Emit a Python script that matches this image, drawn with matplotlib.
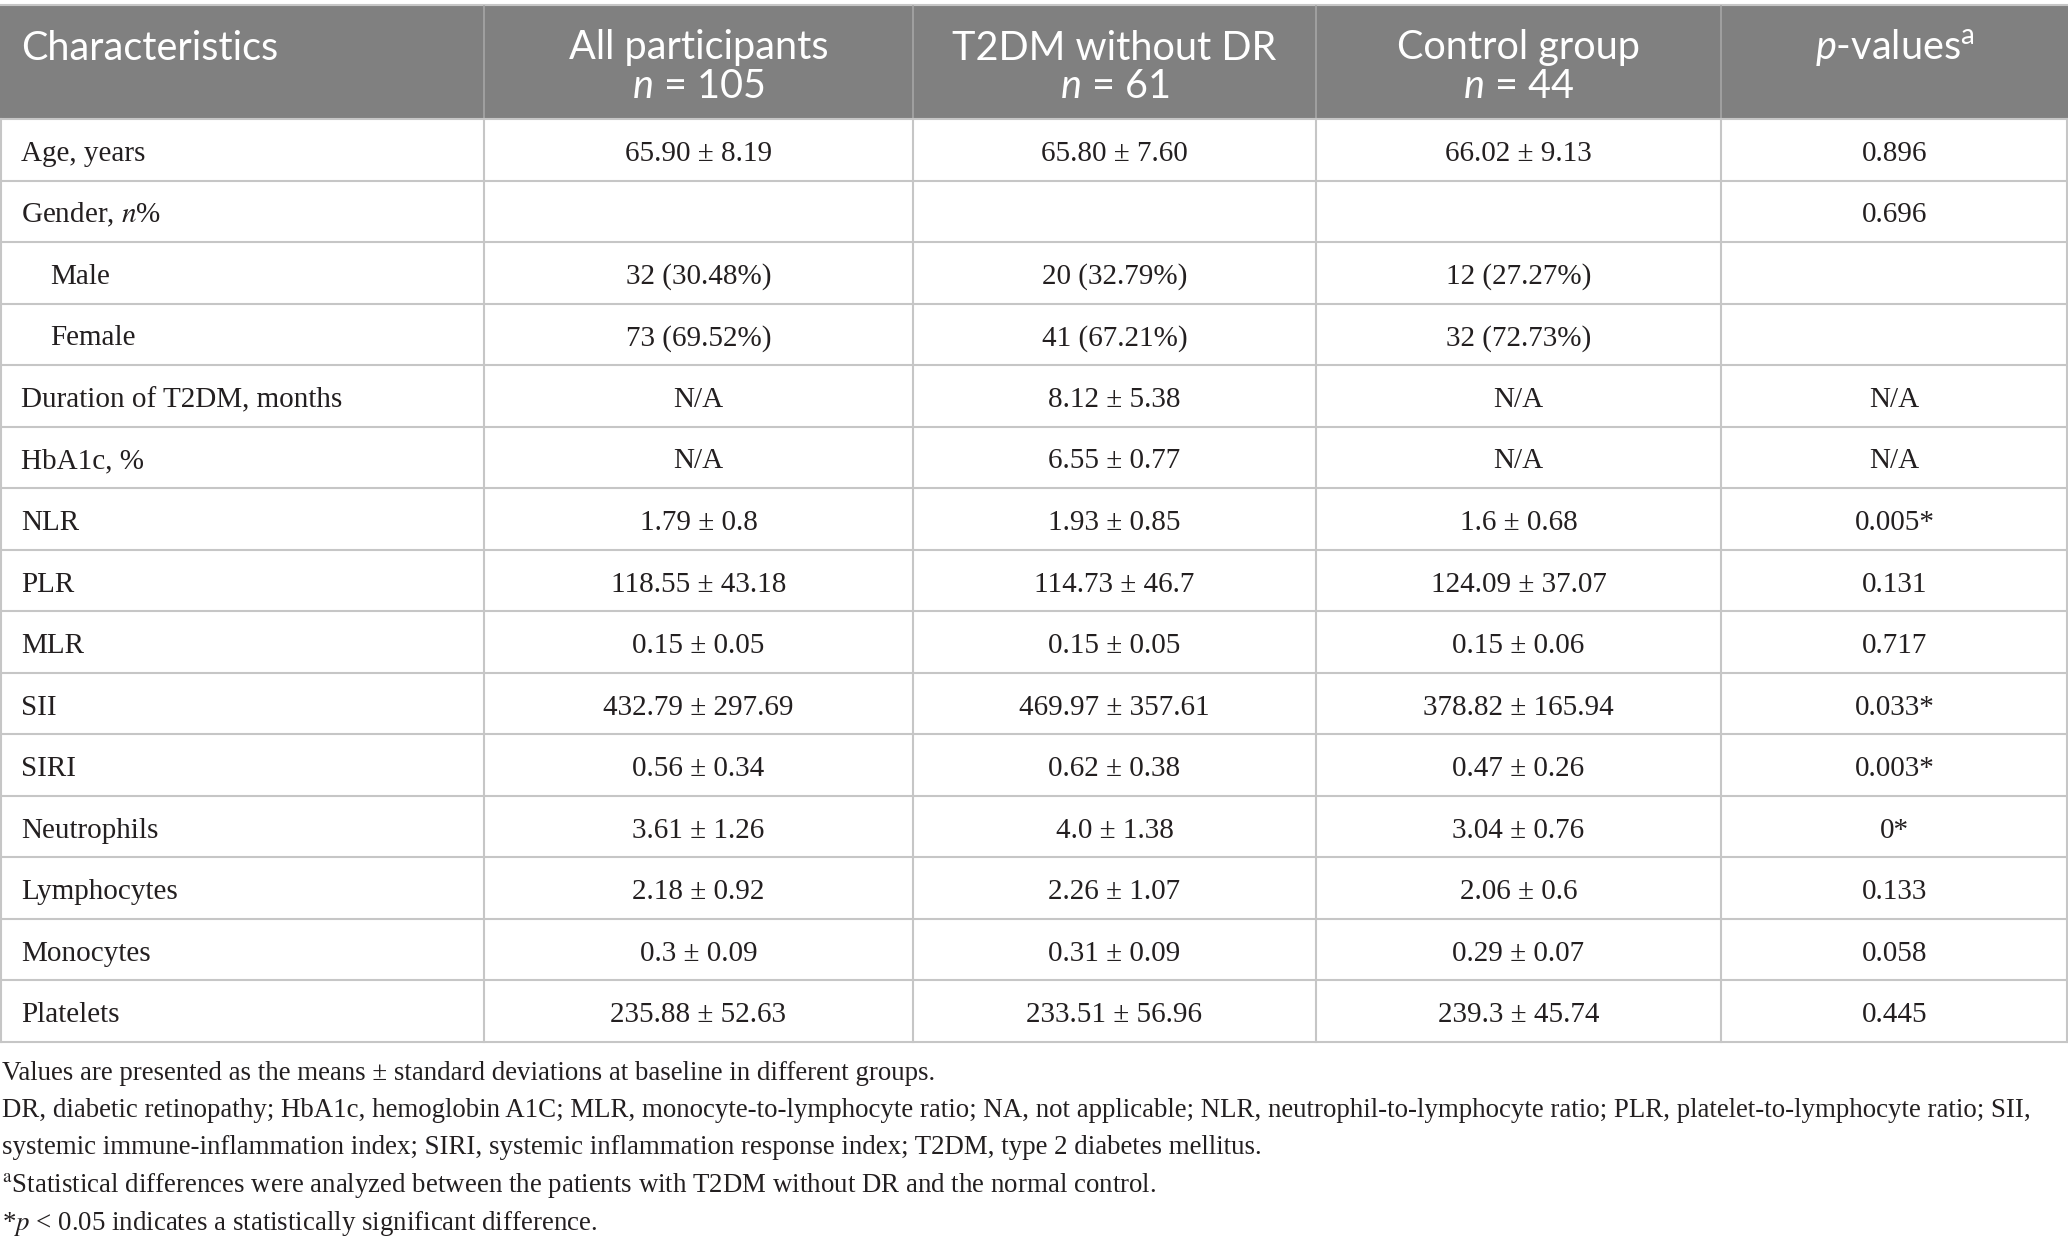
import matplotlib
matplotlib.use("Agg")
import matplotlib.pyplot as plt
from matplotlib.patches import Rectangle

# ---- table content ----
header_top = ["Characteristics", "All participants", "T2DM without DR", "Control group", "$p$-values$^{\\mathrm{a}}$"]
header_n = ["", "$n$ = 105", "$n$ = 61", "$n$ = 44", ""]

labels = ["Age, years", "Gender, $n$%", "Male", "Female", "Duration of T2DM, months",
          "HbA1c, %", "NLR", "PLR", "MLR", "SII", "SIRI", "Neutrophils",
          "Lymphocytes", "Monocytes", "Platelets"]
indented = ["Male", "Female"]

all_participants = ["65.90 ± 8.19", "", "32 (30.48%)", "73 (69.52%)", "N/A", "N/A",
                    "1.79 ± 0.8", "118.55 ± 43.18", "0.15 ± 0.05", "432.79 ± 297.69",
                    "0.56 ± 0.34", "3.61 ± 1.26", "2.18 ± 0.92", "0.3 ± 0.09", "235.88 ± 52.63"]
t2dm_no_dr = ["65.80 ± 7.60", "", "20 (32.79%)", "41 (67.21%)", "8.12 ± 5.38", "6.55 ± 0.77",
              "1.93 ± 0.85", "114.73 ± 46.7", "0.15 ± 0.05", "469.97 ± 357.61",
              "0.62 ± 0.38", "4.0 ± 1.38", "2.26 ± 1.07", "0.31 ± 0.09", "233.51 ± 56.96"]
control = ["66.02 ± 9.13", "", "12 (27.27%)", "32 (72.73%)", "N/A", "N/A",
           "1.6 ± 0.68", "124.09 ± 37.07", "0.15 ± 0.06", "378.82 ± 165.94",
           "0.47 ± 0.26", "3.04 ± 0.76", "2.06 ± 0.6", "0.29 ± 0.07", "239.3 ± 45.74"]
p_values = ["0.896", "0.696", "", "", "N/A", "N/A", "0.005*", "0.131", "0.717", "0.033*",
            "0.003*", "0*", "0.133", "0.058", "0.445"]

footnotes = [
    "Values are presented as the means ± standard deviations at baseline in different groups.",
    "DR, diabetic retinopathy; HbA1c, hemoglobin A1C; MLR, monocyte-to-lymphocyte ratio; NA, not applicable; "
    "NLR, neutrophil-to-lymphocyte ratio; PLR, platelet-to-lymphocyte ratio; SII,",
    "systemic immune-inflammation index; SIRI, systemic inflammation response index; T2DM, type 2 diabetes mellitus.",
    "$^{\\mathrm{a}}$Statistical differences were analyzed between the patients with T2DM without DR and the normal control.",
    "*$p$ < 0.05 indicates a statistically significant difference.",
]

# ---- style / layout ----
W, H = 2068, 1251
col_edges = [0, 484, 913, 1316, 1721, 2068]
head_y0, head_y1 = 6, 119
body_y1 = 1042
grid_color = "#c6c6c6"
head_color = "#808080"
text_color = "#231f20"

plt.rcParams["mathtext.fontset"] = "custom"
plt.rcParams["mathtext.rm"] = "Lato"
plt.rcParams["mathtext.it"] = "Lato:italic"

fig = plt.figure(figsize=(W / 100, H / 100), dpi=100)
ax = fig.add_axes([0, 0, 1, 1])
ax.set_xlim(0, W)
ax.set_ylim(H, 0)
ax.axis("off")

# header band
ax.add_patch(Rectangle((0, head_y0), W, head_y1 - head_y0, color=head_color, lw=0))
ax.plot([0, W], [head_y0 - 1, head_y0 - 1], color=grid_color, lw=1.5)
for x in col_edges[1:-1]:
    ax.plot([x, x], [head_y0, head_y1], color="#a6a6a6", lw=1.2)

hfont = dict(family="Lato", fontsize=28.5, color="white")
for i, (t1, t2) in enumerate(zip(header_top, header_n)):
    if i == 0:
        ax.text(21, 48, t1, ha="left", va="center", **hfont)
        continue
    xc = (col_edges[i] + col_edges[i + 1]) / 2
    ax.text(xc, 48, t1, ha="center", va="center", **hfont)
    if t2:
        ax.text(xc, 87, t2, ha="center", va="center", **hfont)

# body grid
n_rows = len(labels)
row_h = (body_y1 - head_y1) / n_rows
for r in range(n_rows + 1):
    y = head_y1 + r * row_h
    ax.plot([0, W], [y, y], color=grid_color, lw=1.5)
for x in col_edges:
    xx = min(max(x, 1), W - 1)
    ax.plot([xx, xx], [head_y1, body_y1], color=grid_color, lw=1.5)

bfont = dict(family="Liberation Serif", fontsize=21, color=text_color, math_fontfamily="stix")
columns = [all_participants, t2dm_no_dr, control, p_values]
for r, lab in enumerate(labels):
    yc = head_y1 + (r + 0.5) * row_h + 4
    x0 = 50 if lab in indented else 21
    ax.text(x0, yc, lab, ha="left", va="center", **bfont)
    for c, vals in enumerate(columns):
        xc = (col_edges[c + 1] + col_edges[c + 2]) / 2
        ax.text(xc, yc, vals[r], ha="center", va="center", **bfont)

# footnotes
ffont = dict(family="Liberation Serif", fontsize=19.4, color=text_color, math_fontfamily="stix")
for k, line in enumerate(footnotes):
    ax.text(2, 1073 + k * 37.5, line, ha="left", va="center", **ffont)

fig.savefig("out.png", dpi=100)
